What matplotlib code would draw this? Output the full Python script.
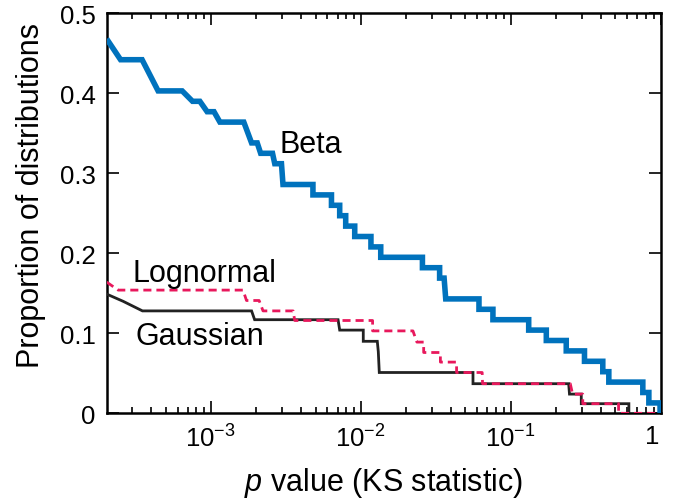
import matplotlib
matplotlib.use("Agg")
import matplotlib.pyplot as plt
import matplotlib.transforms as mtransforms
from matplotlib.ticker import LogLocator, FixedLocator, FixedFormatter, NullFormatter

plt.rcParams['font.family'] = ['Liberation Sans', 'DejaVu Sans']
plt.rcParams['mathtext.fontset'] = 'custom'
plt.rcParams['mathtext.rm'] = 'Liberation Sans'
plt.rcParams['mathtext.it'] = 'Liberation Sans:italic'

# ---- data (vertices of each cumulative curve: p value, proportion) ----
beta_p = [2.02e-4, 2.50e-4, 3.48e-4, 4.45e-4, 6.44e-4, 7.55e-4, 8.45e-4, 9.45e-4,
          1.05e-3, 1.15e-3, 1.66e-3, 1.87e-3, 2.04e-3, 2.15e-3, 2.58e-3, 2.67e-3,
          2.96e-3, 3.03e-3, 4.80e-3, 4.80e-3, 6.38e-3, 6.38e-3, 7.24e-3, 7.24e-3,
          7.94e-3, 7.94e-3, 9.12e-3, 9.12e-3, 1.17e-2, 1.17e-2, 1.36e-2, 1.36e-2,
          2.58e-2, 2.58e-2, 3.36e-2, 3.36e-2, 3.60e-2, 3.69e-2, 6.15e-2, 6.15e-2,
          7.62e-2, 7.62e-2, 0.132, 0.132, 0.173, 0.173, 0.235, 0.235,
          0.311, 0.311, 0.412, 0.412, 0.452, 0.452, 0.762, 0.762,
          0.836, 0.836, 0.993, 0.993]
beta_frac = [0.468, 0.442, 0.442, 0.403, 0.403, 0.390, 0.390, 0.377,
             0.377, 0.364, 0.364, 0.338, 0.338, 0.325, 0.325, 0.312,
             0.312, 0.286, 0.286, 0.273, 0.273, 0.260, 0.260, 0.247,
             0.247, 0.234, 0.234, 0.221, 0.221, 0.208, 0.208, 0.195,
             0.195, 0.182, 0.182, 0.169, 0.169, 0.143, 0.143, 0.130,
             0.130, 0.117, 0.117, 0.104, 0.104, 0.091, 0.091, 0.078,
             0.078, 0.065, 0.065, 0.052, 0.052, 0.039, 0.039, 0.026,
             0.026, 0.013, 0.013, 0.0]

lognormal_p = [2.02e-4, 2.41e-4, 1.64e-3, 1.73e-3, 2.10e-3, 2.23e-3, 3.54e-3, 3.63e-3,
               1.20e-2, 1.20e-2, 2.23e-2, 2.37e-2, 2.63e-2, 2.63e-2, 3.40e-2, 3.40e-2,
               4.36e-2, 4.36e-2, 6.46e-2, 6.50e-2, 0.250, 0.259, 0.303, 0.303,
               0.525, 0.525, 1.0]
lognormal_frac = [0.164, 0.154, 0.154, 0.141, 0.141, 0.128, 0.128, 0.116,
                  0.116, 0.103, 0.103, 0.089, 0.089, 0.076, 0.076, 0.064,
                  0.064, 0.051, 0.051, 0.037, 0.037, 0.024, 0.024, 0.012,
                  0.012, 0.0, 0.0]

gaussian_p = [2.02e-4, 2.60e-4, 3.50e-4, 1.87e-3, 1.96e-3, 7.06e-3, 7.24e-3, 1.04e-2,
              1.04e-2, 1.29e-2, 1.31e-2, 1.33e-2, 5.61e-2, 5.61e-2, 0.244, 0.247,
              0.296, 0.296, 0.615, 0.615]
gaussian_frac = [0.149, 0.140, 0.128, 0.128, 0.117, 0.117, 0.104, 0.104,
                 0.090, 0.090, 0.077, 0.051, 0.051, 0.037, 0.037, 0.024,
                 0.024, 0.012, 0.012, 0.0]

x_major = [1e-3, 1e-2, 1e-1, 1.0]
x_labels = [r'$10^{-3}$', r'$10^{-2}$', r'$10^{-1}$', '1']
y_ticks = [0, 0.1, 0.2, 0.3, 0.4, 0.5]
y_labels = ['0', '0.1', '0.2', '0.3', '0.4', '0.5']

fig = plt.figure(figsize=(6.74, 5.02), dpi=100)
ax = fig.add_axes([0.1583, 0.1747, 0.8217, 0.7968])

ax.plot(gaussian_p, gaussian_frac, color='#222222', lw=2.0,
        solid_joinstyle='miter', zorder=3)
ax.plot(lognormal_p, lognormal_frac, color='#E8185C', lw=2.0,
        dashes=(2.9, 1.8), zorder=4)
ax.plot(beta_p, beta_frac, color='#0072BD', lw=4.0,
        solid_joinstyle='miter', solid_capstyle='butt', zorder=5)

ax.set_xscale('log')
ax.set_xlim(2.02e-4, 1.0)
ax.set_ylim(0, 0.5)

ax.xaxis.set_major_locator(FixedLocator(x_major))
ax.xaxis.set_major_formatter(FixedFormatter(x_labels))
ax.xaxis.set_minor_locator(LogLocator(base=10, subs=range(2, 10), numticks=20))
ax.xaxis.set_minor_formatter(NullFormatter())
ax.set_yticks(y_ticks)
ax.set_yticklabels(y_labels)

ax.tick_params(which='both', direction='in', top=True, right=True,
               width=1.2, color='black')
ax.tick_params(which='major', length=8.5)
ax.tick_params(which='minor', length=4.5)
ax.tick_params(axis='x', which='major', labelsize=18.5, pad=8)
ax.tick_params(axis='y', which='major', labelsize=18.5, pad=8)

for s in ax.spines.values():
    s.set_linewidth(1.8)

# shift the "1" label slightly left as in reference
lbls = ax.get_xticklabels()
off = mtransforms.ScaledTranslation(-8/100, 0, fig.dpi_scale_trans)
lbls[-1].set_transform(lbls[-1].get_transform() + off)

ax.set_xlabel(r'$p$ value (KS statistic)', fontsize=22)
ax.set_ylabel('Proportion of distributions', fontsize=22)
ax.xaxis.set_label_coords(0.5, -0.13)
ax.yaxis.set_label_coords(-0.11, 0.548)

ax.text(4.64e-3, 0.3266, 'Beta', fontsize=22, ha='center', va='baseline', zorder=6)
ax.text(3.02e-4, 0.1648, 'Lognormal', fontsize=22, ha='left', va='baseline', zorder=6)
ax.text(3.16e-4, 0.0866, 'Gaussian', fontsize=22, ha='left', va='baseline', zorder=6)

fig.savefig('out.png', dpi=100)
